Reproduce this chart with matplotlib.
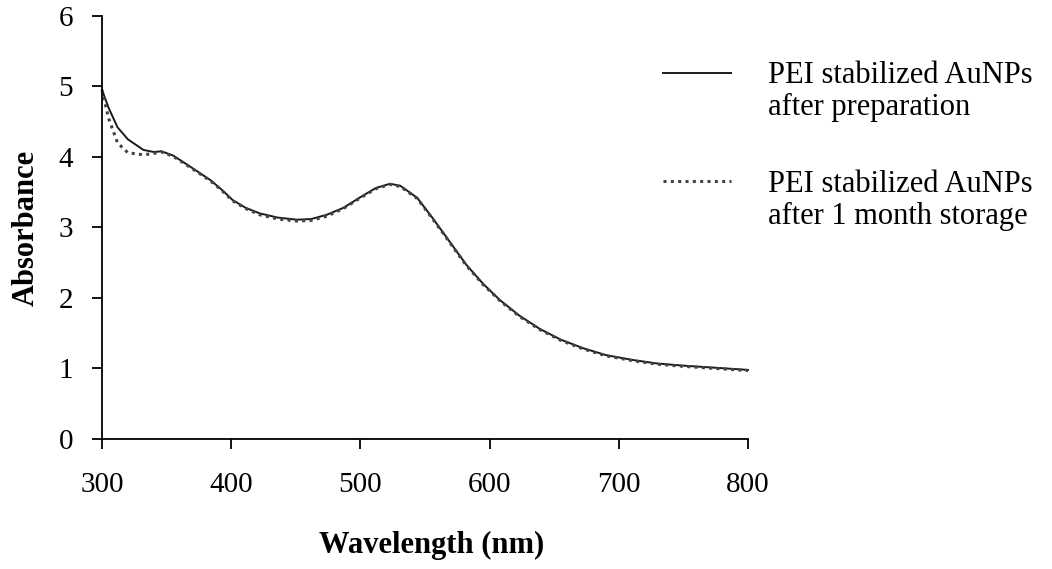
import matplotlib.pyplot as plt
from matplotlib.lines import Line2D

plt.rcParams['font.family'] = 'Liberation Serif'

# valores
wavelength = [300, 305, 312, 320, 332, 340, 346, 355, 366, 375, 384, 393, 401, 411,
              422, 436, 451, 462, 474, 487, 500, 512, 523, 531, 544, 556, 569, 582,
              595, 608, 623, 639, 655, 672, 690, 711, 730, 750, 775, 800]
abs_fresh = [4.95, 4.70, 4.42, 4.25, 4.10, 4.07, 4.08, 4.02, 3.89, 3.78, 3.67, 3.53,
             3.39, 3.28, 3.20, 3.14, 3.11, 3.12, 3.18, 3.28, 3.43, 3.56, 3.62, 3.59,
             3.42, 3.13, 2.80, 2.47, 2.20, 1.97, 1.75, 1.56, 1.41, 1.29, 1.19, 1.12,
             1.07, 1.04, 1.01, 0.98]
abs_month = [4.95, 4.55, 4.20, 4.06, 4.03, 4.05, 4.07, 4.01, 3.88, 3.77, 3.66, 3.52,
             3.38, 3.27, 3.18, 3.12, 3.09, 3.10, 3.16, 3.27, 3.42, 3.55, 3.61, 3.58,
             3.41, 3.12, 2.79, 2.46, 2.19, 1.96, 1.74, 1.55, 1.40, 1.28, 1.18, 1.11,
             1.06, 1.03, 1.00, 0.97]
x_ticks = [300, 400, 500, 600, 700, 800]
y_ticks = [0, 1, 2, 3, 4, 5, 6]
labels = [('PEI stabilized AuNPs', 'after preparation'),
          ('PEI stabilized AuNPs', 'after 1 month storage')]

fig = plt.figure(figsize=(10.52, 5.69), dpi=100)
ax = fig.add_axes([0.097, 0.2285, 0.614, 0.7435])

solid = dict(color='#1a1a1a', lw=1.4)
dotted = dict(color='#444444', lw=2.2, linestyle=(0, (1, 1.4)))

ax.plot(wavelength, abs_fresh, clip_on=False, **solid)
ax.plot(wavelength, abs_month, clip_on=False, **dotted)

ax.set_xlim(300, 800)
ax.set_ylim(0, 6)
ax.set_xticks(x_ticks)
ax.set_yticks(y_ticks)
ax.spines['top'].set_visible(False)
ax.spines['right'].set_visible(False)
ax.spines['left'].set_linewidth(1.3)
ax.spines['bottom'].set_linewidth(1.3)
ax.tick_params(direction='out', length=7.5, width=1.3, labelsize=21)
ax.tick_params(axis='x', pad=16)
ax.tick_params(axis='y', pad=13.5)

ax.set_xlabel('Wavelength (nm)', fontsize=22, fontweight='bold')
ax.set_ylabel('Absorbance', fontsize=22, fontweight='bold')
ax.xaxis.set_label_coords(0.51, -0.2175)
ax.yaxis.set_label_coords(-0.095, 0.5)

# legenda manual: linha de exemplo + duas linhas de texto
handle_y = [0.8717, 0.6819]
line1_y = [0.8541, 0.6626]
line2_y = [0.7979, 0.6063]
for hy, y1, y2, lab, st in zip(handle_y, line1_y, line2_y, labels, [solid, dotted]):
    fig.add_artist(Line2D([0.630, 0.695], [hy, hy], transform=fig.transFigure, **st))
    fig.text(0.730, y1, lab[0], fontsize=22, va='baseline', ha='left')
    fig.text(0.730, y2, lab[1], fontsize=22, va='baseline', ha='left')

plt.savefig('out.png')
